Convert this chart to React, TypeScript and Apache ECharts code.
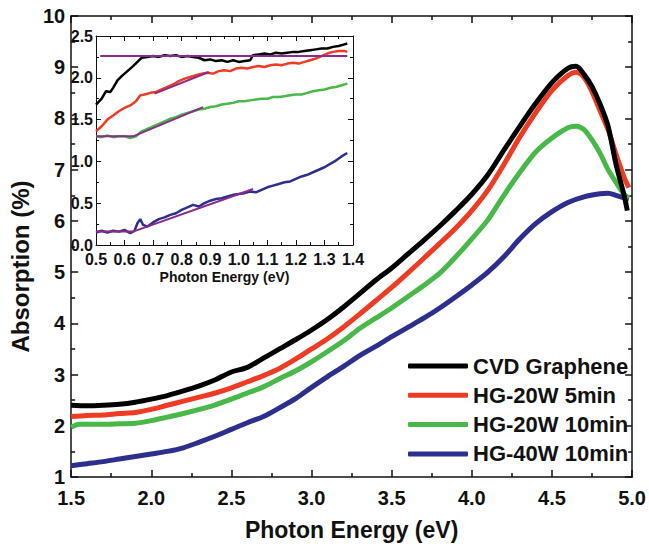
import React, { useEffect, useRef } from "react";
import * as echarts from "echarts";

const seriesNames = ["CVD Graphene", "HG-20W 5min", "HG-20W 10min", "HG-40W 10min"];
const seriesColors = ["#000000", "#ef3b23", "#48b848", "#2c2f8e"];
const fitColor = "#8a2a8c";

const mainBlack = [
  [1.5, 2.4], [1.6, 2.39], [1.7, 2.4], [1.8, 2.42], [1.9, 2.46], [2.0, 2.52], [2.1, 2.59], [2.2, 2.68],
  [2.3, 2.78], [2.4, 2.9], [2.5, 3.05], [2.6, 3.14], [2.7, 3.32], [2.8, 3.5], [2.9, 3.68], [3.0, 3.87],
  [3.1, 4.08], [3.2, 4.32], [3.3, 4.58], [3.4, 4.84], [3.5, 5.08], [3.6, 5.35], [3.7, 5.62], [3.8, 5.9],
  [3.9, 6.2], [4.0, 6.52], [4.1, 6.9], [4.2, 7.38], [4.3, 7.85], [4.4, 8.3], [4.5, 8.7], [4.6, 8.98],
  [4.65, 9.02], [4.7, 8.86], [4.75, 8.62], [4.8, 8.28], [4.85, 7.85], [4.9, 7.1], [4.95, 6.5], [4.97, 6.2],
];
const mainRed = [
  [1.5, 2.18], [1.6, 2.2], [1.7, 2.21], [1.8, 2.24], [1.9, 2.26], [2.0, 2.32], [2.1, 2.4], [2.2, 2.48],
  [2.3, 2.56], [2.4, 2.64], [2.5, 2.74], [2.6, 2.86], [2.7, 2.98], [2.8, 3.12], [2.9, 3.3], [3.0, 3.5],
  [3.1, 3.7], [3.2, 3.93], [3.3, 4.18], [3.4, 4.44], [3.5, 4.7], [3.6, 4.98], [3.7, 5.27], [3.8, 5.56],
  [3.9, 5.86], [4.0, 6.2], [4.1, 6.6], [4.2, 7.1], [4.3, 7.64], [4.4, 8.12], [4.5, 8.55], [4.6, 8.84],
  [4.65, 8.9], [4.7, 8.8], [4.75, 8.52], [4.8, 8.15], [4.85, 7.78], [4.9, 7.3], [4.95, 6.85], [4.98, 6.65],
];
const mainGreen = [
  [1.5, 1.97], [1.55, 2.03], [1.6, 2.03], [1.7, 2.03], [1.8, 2.04], [1.9, 2.05], [2.0, 2.1], [2.1, 2.17],
  [2.2, 2.24], [2.3, 2.32], [2.4, 2.41], [2.5, 2.52], [2.6, 2.64], [2.7, 2.76], [2.8, 2.92], [2.9, 3.07],
  [3.0, 3.25], [3.1, 3.45], [3.2, 3.66], [3.3, 3.9], [3.4, 4.1], [3.5, 4.3], [3.6, 4.52], [3.7, 4.74],
  [3.8, 4.98], [3.9, 5.3], [4.0, 5.65], [4.1, 6.02], [4.2, 6.5], [4.3, 6.95], [4.4, 7.35], [4.5, 7.62],
  [4.6, 7.82], [4.65, 7.85], [4.7, 7.78], [4.75, 7.58], [4.8, 7.32], [4.85, 7.0], [4.9, 6.75], [4.95, 6.52],
  [4.98, 6.45],
];
const mainBlue = [
  [1.5, 1.22], [1.6, 1.26], [1.7, 1.3], [1.8, 1.35], [1.9, 1.4], [2.0, 1.45], [2.1, 1.5], [2.2, 1.57],
  [2.3, 1.68], [2.4, 1.8], [2.5, 1.93], [2.6, 2.06], [2.7, 2.18], [2.8, 2.35], [2.9, 2.53], [3.0, 2.75],
  [3.1, 2.96], [3.2, 3.16], [3.3, 3.37], [3.4, 3.55], [3.5, 3.74], [3.6, 3.92], [3.7, 4.1], [3.8, 4.3],
  [3.9, 4.52], [4.0, 4.75], [4.1, 5.0], [4.2, 5.3], [4.3, 5.65], [4.4, 5.95], [4.5, 6.18], [4.6, 6.36],
  [4.7, 6.47], [4.8, 6.53], [4.85, 6.54], [4.9, 6.5], [4.95, 6.45], [4.98, 6.43],
];

const insetBlack = [
  [0.5, 1.68], [0.52, 1.75], [0.535, 1.84], [0.55, 1.83], [0.56, 1.88], [0.575, 1.97], [0.59, 2.02],
  [0.61, 2.08], [0.63, 2.14], [0.645, 2.19], [0.66, 2.24], [0.68, 2.25], [0.7, 2.26], [0.72, 2.25],
  [0.74, 2.27], [0.76, 2.26], [0.78, 2.27], [0.8, 2.25], [0.82, 2.26], [0.84, 2.25], [0.86, 2.24],
  [0.88, 2.21], [0.9, 2.22], [0.92, 2.2], [0.94, 2.21], [0.96, 2.19], [0.98, 2.21], [1.0, 2.19],
  [1.02, 2.2], [1.04, 2.21], [1.05, 2.27], [1.07, 2.28], [1.09, 2.29], [1.11, 2.28], [1.13, 2.3],
  [1.15, 2.29], [1.17, 2.3], [1.19, 2.31], [1.21, 2.31], [1.23, 2.32], [1.25, 2.33], [1.27, 2.34],
  [1.29, 2.35], [1.31, 2.35], [1.33, 2.37], [1.35, 2.38], [1.37, 2.4], [1.38, 2.41],
];
const insetRed = [
  [0.5, 1.36], [0.52, 1.42], [0.54, 1.5], [0.56, 1.55], [0.58, 1.6], [0.6, 1.64], [0.62, 1.67],
  [0.64, 1.72], [0.655, 1.79], [0.67, 1.8], [0.69, 1.82], [0.71, 1.83], [0.73, 1.86], [0.75, 1.89],
  [0.77, 1.92], [0.79, 1.96], [0.81, 1.99], [0.83, 2.01], [0.85, 2.03], [0.87, 2.05], [0.89, 2.06],
  [0.91, 2.05], [0.93, 2.08], [0.95, 2.09], [0.97, 2.08], [0.99, 2.11], [1.01, 2.12], [1.03, 2.11],
  [1.05, 2.13], [1.07, 2.14], [1.09, 2.13], [1.11, 2.15], [1.13, 2.16], [1.15, 2.15], [1.17, 2.17],
  [1.19, 2.18], [1.21, 2.17], [1.23, 2.19], [1.25, 2.21], [1.27, 2.23], [1.29, 2.26], [1.31, 2.29],
  [1.33, 2.31], [1.35, 2.32], [1.37, 2.32], [1.38, 2.31],
];
const insetGreen = [
  [0.5, 1.3], [0.52, 1.29], [0.54, 1.31], [0.56, 1.29], [0.58, 1.3], [0.6, 1.3], [0.62, 1.28],
  [0.64, 1.3], [0.66, 1.36], [0.68, 1.39], [0.7, 1.42], [0.72, 1.45], [0.74, 1.48], [0.76, 1.51],
  [0.78, 1.53], [0.8, 1.56], [0.82, 1.58], [0.84, 1.6], [0.86, 1.62], [0.88, 1.63], [0.9, 1.65],
  [0.92, 1.66], [0.94, 1.68], [0.96, 1.69], [0.98, 1.7], [1.0, 1.72], [1.02, 1.72], [1.04, 1.73],
  [1.06, 1.74], [1.08, 1.75], [1.1, 1.75], [1.12, 1.77], [1.14, 1.77], [1.16, 1.78], [1.18, 1.79],
  [1.2, 1.8], [1.22, 1.8], [1.24, 1.82], [1.26, 1.84], [1.28, 1.85], [1.3, 1.86], [1.32, 1.88],
  [1.34, 1.89], [1.36, 1.91], [1.38, 1.93],
];
const insetBlue = [
  [0.5, 0.15], [0.52, 0.17], [0.54, 0.15], [0.56, 0.17], [0.58, 0.16], [0.6, 0.18], [0.62, 0.14],
  [0.635, 0.17], [0.645, 0.26], [0.655, 0.31], [0.665, 0.24], [0.68, 0.22], [0.7, 0.27], [0.72, 0.31],
  [0.74, 0.33], [0.76, 0.36], [0.78, 0.38], [0.8, 0.42], [0.82, 0.45], [0.84, 0.48], [0.86, 0.46],
  [0.88, 0.5], [0.9, 0.53], [0.92, 0.55], [0.94, 0.56], [0.96, 0.58], [0.98, 0.6], [1.0, 0.61],
  [1.02, 0.62], [1.04, 0.64], [1.06, 0.63], [1.08, 0.66], [1.1, 0.69], [1.12, 0.71], [1.14, 0.73],
  [1.16, 0.75], [1.18, 0.76], [1.2, 0.79], [1.22, 0.82], [1.24, 0.84], [1.26, 0.87], [1.28, 0.9],
  [1.3, 0.93], [1.32, 0.97], [1.34, 1.01], [1.36, 1.06], [1.38, 1.1],
];

const fitLines = [
  [[0.515, 2.26], [1.38, 2.26]],
  [[0.705, 1.81], [0.895, 2.07]],
  [[0.5, 1.3], [0.63, 1.3], [0.875, 1.65]],
  [[0.5, 0.16], [0.63, 0.16], [1.05, 0.67]],
];

const mainTicksX = { min: 1.5, max: 5.0, interval: 0.5 };
const mainTicksY = { min: 1, max: 10, interval: 1 };
const insetTicksX = { min: 0.5, max: 1.4, interval: 0.1 };
const insetTicksY = { min: 0, max: 2.5, interval: 0.5 };

const FONT = "Liberation Sans, Arial, sans-serif";

function axisBase(gridIndex: number, position: string, range: any, showLabel: boolean, labelSize: number, fmt: (v: number) => string, major: number, minor: number, lw: number) {
  return {
    type: "value",
    gridIndex,
    position,
    min: range.min,
    max: range.max,
    interval: range.interval,
    splitLine: { show: false },
    axisLine: { show: true, onZero: false, lineStyle: { color: "#111111", width: lw } },
    axisTick: { show: true, inside: true, length: major, lineStyle: { color: "#111111", width: lw } },
    minorTick: { show: true, splitNumber: 2, length: minor, lineStyle: { color: "#111111", width: lw } },
    axisLabel: {
      show: showLabel,
      fontFamily: FONT,
      fontWeight: "bold",
      fontSize: labelSize,
      color: "#111111",
      formatter: fmt,
    },
  };
}

export default function App() {
  const ref = useRef<HTMLDivElement>(null);
  useEffect(() => {
    const chart = echarts.init(ref.current!, null, { renderer: "svg" });
    const f1 = (v: number) => v.toFixed(1);
    const f0 = (v: number) => String(Math.round(v));

    const xMain: any = axisBase(0, "bottom", mainTicksX, true, 20, f1, 7, 4, 1.5);
    xMain.axisLabel.margin = 11;
    xMain.name = "Photon Energy (eV)";
    xMain.nameLocation = "middle";
    xMain.nameGap = 41;
    xMain.nameTextStyle = { fontFamily: FONT, fontWeight: "bold", fontSize: 23, color: "#111111" };
    const xMainTop: any = axisBase(0, "top", mainTicksX, false, 20, f1, 7, 4, 1.5);
    const yMain: any = axisBase(0, "left", mainTicksY, true, 20, f0, 7, 4, 1.5);
    yMain.axisLabel.margin = 6;
    yMain.name = "Absorption (%)";
    yMain.nameLocation = "middle";
    yMain.nameGap = 25;
    yMain.nameTextStyle = { fontFamily: FONT, fontWeight: "bold", fontSize: 24, color: "#111111", padding: [0, 40, 0, 0] };
    const yMainRight: any = axisBase(0, "right", mainTicksY, false, 20, f0, 7, 4, 1.5);

    const xIn: any = axisBase(1, "bottom", insetTicksX, true, 16, f1, 5, 3, 1);
    xIn.axisLabel.margin = 6;
    xIn.name = "Photon Energy (eV)";
    xIn.nameLocation = "middle";
    xIn.nameGap = 25;
    xIn.nameTextStyle = { fontFamily: FONT, fontWeight: "bold", fontSize: 14, color: "#111111" };
    const xInTop: any = axisBase(1, "top", insetTicksX, false, 16, f1, 5, 3, 1);
    const yIn: any = axisBase(1, "left", insetTicksY, true, 16, f1, 5, 3, 1);
    yIn.axisLabel.margin = 3;
    const yInRight: any = axisBase(1, "right", insetTicksY, false, 16, f1, 5, 3, 1);

    const mains = [mainBlack, mainRed, mainGreen, mainBlue];
    const insets = [insetBlack, insetRed, insetGreen, insetBlue];
    const series: any[] = [];
    mains.forEach((d, i) => {
      series.push({
        name: seriesNames[i],
        type: "line",
        xAxisIndex: 0,
        yAxisIndex: 0,
        data: d,
        showSymbol: false,
        symbol: "none",
        smooth: 0.3,
        lineStyle: { color: seriesColors[i], width: 5 },
        itemStyle: { color: seriesColors[i] },
        z: 3 + (3 - i),
      });
    });
    insets.forEach((d, i) => {
      series.push({
        name: "inset " + seriesNames[i],
        type: "line",
        xAxisIndex: 2,
        yAxisIndex: 2,
        data: d,
        showSymbol: false,
        symbol: "none",
        lineStyle: { color: seriesColors[i], width: 2.5 },
        itemStyle: { color: seriesColors[i] },
        z: 10,
      });
    });
    fitLines.forEach((d, i) => {
      series.push({
        name: "fit " + i,
        type: "line",
        xAxisIndex: 2,
        yAxisIndex: 2,
        data: d,
        showSymbol: false,
        symbol: "none",
        lineStyle: { color: fitColor, width: 2 },
        z: 11,
      });
    });

    chart.setOption({
      animation: false,
      backgroundColor: "#ffffff",
      grid: [
        { left: 62, top: 16, width: 573, height: 463 },
        { left: 96, top: 36, width: 257, height: 209, show: true, backgroundColor: "#ffffff", borderWidth: 0 },
      ],
      xAxis: [xMain, xMainTop, xIn, xInTop],
      yAxis: [yMain, yMainRight, yIn, yInRight],
      legend: {
        data: seriesNames,
        orient: "vertical",
        left: 403,
        top: 350,
        itemWidth: 60,
        itemHeight: 5,
        itemGap: 7.3,
        icon: "roundRect",
        textStyle: { fontFamily: FONT, fontWeight: "bold", fontSize: 22, lineHeight: 22, color: "#111111" },
        selectedMode: false,
      },
      series,
    });
    return () => chart.dispose();
  }, []);
  return <div ref={ref} style={{ position: "absolute", left: 0, top: 0, width: 649, height: 546 }} />;
}
